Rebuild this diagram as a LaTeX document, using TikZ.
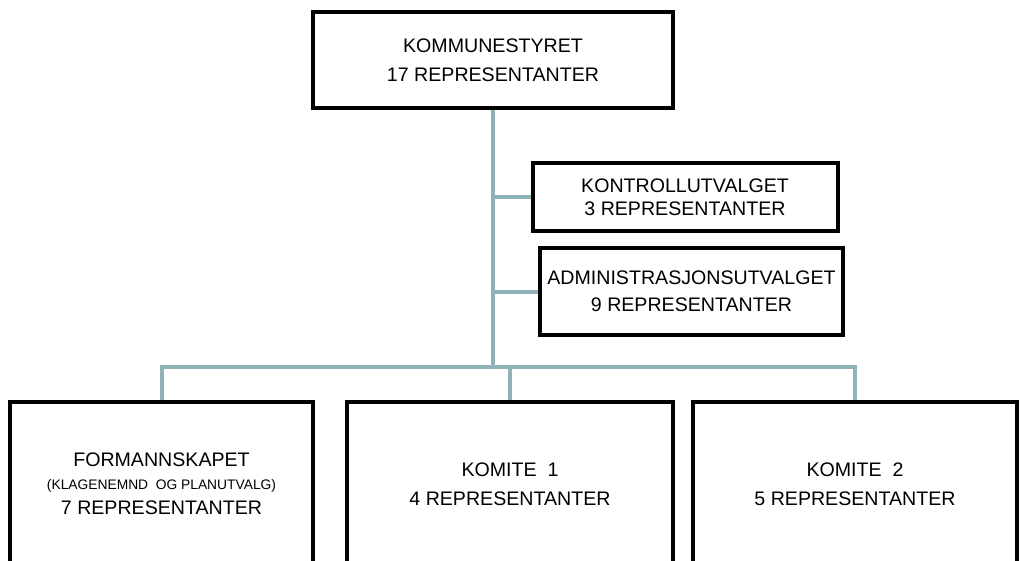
\documentclass[tikz,border=0pt]{standalone}
\usepackage{fontspec}
\setmainfont{Liberation Sans}
\usepackage{tikz}

\definecolor{linjefarge}{HTML}{8FB3B7}
\tikzset{
    organ/.style={draw=black, line width=4pt, fill=white, align=center,
        font=\fontsize{19.6}{29}\selectfont, inner sep=0pt},
    linje/.style={draw=linjefarge, line width=4pt}
}

\begin{document}
\begin{tikzpicture}[x=1pt,y=-1pt]
        \useasboundingbox (0,0) rectangle (1020,560);
        \clip (0,0) rectangle (1020,560);

        \node[organ, minimum width=360pt, minimum height=96pt] (styret) at (493,60)
            {KOMMUNESTYRET\\17 REPRESENTANTER};
        \node[organ, minimum width=305pt, minimum height=68pt] (kontroll) at (685,197)
            {KONTROLLUTVALGET\\[-6pt]3 REPRESENTANTER};
        \node[organ, minimum width=303pt, minimum height=87pt] (admin) at (691.5,291.5)
            {ADMINISTRASJONSUTVALGET\\[-2pt]9 REPRESENTANTER};

        \node[organ, minimum width=303pt, minimum height=164pt] (formann) at (161.5,484)
            {FORMANNSKAPET\\[-6pt]{\fontsize{13.8}{16}\selectfont (KLAGENEMND\ \ OG PLANUTVALG)}\\[-4pt]7 REPRESENTANTER};
        \node[organ, minimum width=326pt, minimum height=164pt] (komite1) at (510,484)
            {KOMITE\ \ 1\\4 REPRESENTANTER};
        \node[organ, minimum width=324pt, minimum height=164pt] (komite2) at (855,484)
            {KOMITE\ \ 2\\5 REPRESENTANTER};

        \coordinate (buss) at (493,366.5);

        \draw[linje] (styret.south) -- (buss);
        \draw[linje] (styret.south |- kontroll.west) -- (kontroll.west);
        \draw[linje] (styret.south |- admin.west) -- (admin.west);
        \draw[linje] (formann.north) -- (formann.north |- buss) -- (buss);
        \draw[linje] (buss) -- (komite2.north |- buss) -- (komite2.north);
        \draw[linje] (komite1.north |- buss) -- (komite1.north);
    \end{tikzpicture}
\end{document}
